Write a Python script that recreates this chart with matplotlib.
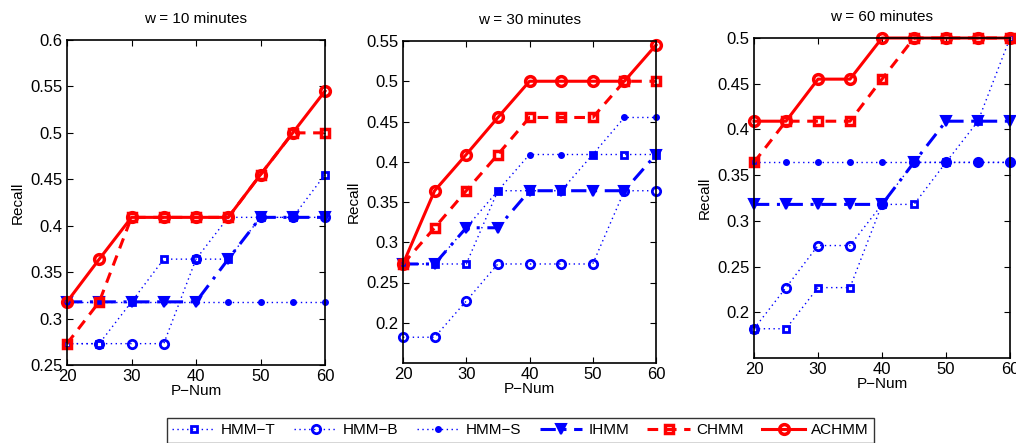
import matplotlib
matplotlib.use("Agg")
import matplotlib.pyplot as plt

p_num = [20, 25, 30, 35, 40, 45, 50, 55, 60]
titles = ["w = 10 minutes", "w = 30 minutes", "w = 60 minutes"]
series_names = ["HMM\u2212T", "HMM\u2212B", "HMM\u2212S", "IHMM", "CHMM", "ACHMM"]

# recall per window, one list per method
w10 = {
    "HMM-T": [0.273, 0.273, 0.318, 0.364, 0.364, 0.364, 0.409, 0.409, 0.455],
    "HMM-B": [0.273, 0.273, 0.273, 0.273, 0.364, 0.409, 0.409, 0.409, 0.409],
    "HMM-S": [0.318, 0.318, 0.318, 0.318, 0.318, 0.318, 0.318, 0.318, 0.318],
    "IHMM": [0.318, 0.318, 0.318, 0.318, 0.318, 0.364, 0.409, 0.409, 0.409],
    "CHMM": [0.273, 0.318, 0.409, 0.409, 0.409, 0.409, 0.455, 0.500, 0.500],
    "ACHMM": [0.318, 0.364, 0.409, 0.409, 0.409, 0.409, 0.455, 0.500, 0.545],
}
w30 = {
    "HMM-T": [0.273, 0.273, 0.273, 0.364, 0.364, 0.364, 0.409, 0.409, 0.409],
    "HMM-B": [0.182, 0.182, 0.227, 0.273, 0.273, 0.273, 0.273, 0.364, 0.364],
    "HMM-S": [0.273, 0.273, 0.318, 0.364, 0.409, 0.409, 0.409, 0.455, 0.455],
    "IHMM": [0.273, 0.273, 0.318, 0.318, 0.364, 0.364, 0.364, 0.364, 0.409],
    "CHMM": [0.273, 0.318, 0.364, 0.409, 0.455, 0.455, 0.455, 0.500, 0.500],
    "ACHMM": [0.273, 0.364, 0.409, 0.455, 0.500, 0.500, 0.500, 0.500, 0.545],
}
w60 = {
    "HMM-T": [0.182, 0.182, 0.227, 0.227, 0.318, 0.318, 0.364, 0.409, 0.500],
    "HMM-B": [0.182, 0.227, 0.273, 0.273, 0.318, 0.364, 0.364, 0.364, 0.364],
    "HMM-S": [0.364, 0.364, 0.364, 0.364, 0.364, 0.364, 0.364, 0.364, 0.364],
    "IHMM": [0.318, 0.318, 0.318, 0.318, 0.318, 0.364, 0.409, 0.409, 0.409],
    "CHMM": [0.364, 0.409, 0.409, 0.409, 0.455, 0.500, 0.500, 0.500, 0.500],
    "ACHMM": [0.409, 0.409, 0.455, 0.455, 0.500, 0.500, 0.500, 0.500, 0.500],
}
panels = [w10, w30, w60]
y_limits = [(0.25, 0.6), (0.15, 0.55), (0.15, 0.5)]
y_ticks = [
    [0.25, 0.3, 0.35, 0.4, 0.45, 0.5, 0.55, 0.6],
    [0.2, 0.25, 0.3, 0.35, 0.4, 0.45, 0.5, 0.55],
    [0.2, 0.25, 0.3, 0.35, 0.4, 0.45, 0.5],
]
y_ticklabels = [
    ["0.25", "0.3", "0.35", "0.4", "0.45", "0.5", "0.55", "0.6"],
    ["0.2", "0.25", "0.3", "0.35", "0.4", "0.45", "0.5", "0.55"],
    ["0.2", "0.25", "0.3", "0.35", "0.4", "0.45", "0.5"],
]

BLUE = "#0000ff"
RED = "#ff0000"
styles = {
    "HMM-T": dict(color=BLUE, ls=(0, (1, 2.5)), lw=1.0, marker="s", ms=5, mew=2.0, mfc="none"),
    "HMM-B": dict(color=BLUE, ls=(0, (1, 2.5)), lw=1.0, marker="o", ms=6, mew=2.0, mfc="none"),
    "HMM-S": dict(color=BLUE, ls=(0, (1, 2.5)), lw=1.0, marker=".", ms=8, mew=1.0),
    "IHMM": dict(color=BLUE, ls=(0, (5, 2.5, 1, 2.5)), lw=2.2, marker="v", ms=7, mew=1.5),
    "CHMM": dict(color=RED, ls=(0, (3.5, 2.5)), lw=2.2, marker="s", ms=6, mew=2.5, mfc="none"),
    "ACHMM": dict(color=RED, ls="-", lw=2.2, marker="o", ms=7, mew=2.5, mfc="none"),
}

plt.rcParams["font.family"] = ["Liberation Sans", "DejaVu Sans"]

fig = plt.figure(figsize=(10.16, 4.43), dpi=100)
W, H = 1016, 443
boxes = [(67, 40, 325, 365), (403, 41, 656, 363), (754, 38, 1010, 358)]

handles = []
for i, (data, (x0, y0, x1, y1)) in enumerate(zip(panels, boxes)):
    ax = fig.add_axes([x0 / W, 1 - y1 / H, (x1 - x0) / W, (y1 - y0) / H])
    for key in ["HMM-T", "HMM-B", "HMM-S", "IHMM", "CHMM", "ACHMM"]:
        (line,) = ax.plot(p_num, data[key], clip_on=False, **styles[key])
        if i == 0:
            handles.append(line)
    ax.set_xlim(20, 60)
    ax.set_ylim(*y_limits[i])
    ax.set_xticks([20, 30, 40, 50, 60])
    ax.set_yticks(y_ticks[i])
    ax.set_yticklabels(y_ticklabels[i])
    ax.tick_params(direction="in", top=True, right=True, labelsize=12, length=4, width=0.8, pad=3)
    for s in ax.spines.values():
        s.set_linewidth(1.2)
    ax.set_title(titles[i], fontsize=11, pad=12)
    ax.set_xlabel("P\u2212Num", fontsize=11, labelpad=0)
    ax.set_ylabel("Recall", fontsize=11, labelpad=4)

leg = fig.legend(
    handles, series_names, loc="upper left",
    bbox_to_anchor=(167 / W, 1 - 418 / H, (874 - 167) / W, 0.0),
    mode="expand", ncol=6, fontsize=11, frameon=True, fancybox=False,
    handlelength=2.8, handletextpad=0.4, columnspacing=0.4, borderpad=0.35,
    borderaxespad=0.0,
)
leg.get_frame().set_edgecolor("black")
leg.get_frame().set_linewidth(1.0)

fig.savefig("out.png", dpi=100)
